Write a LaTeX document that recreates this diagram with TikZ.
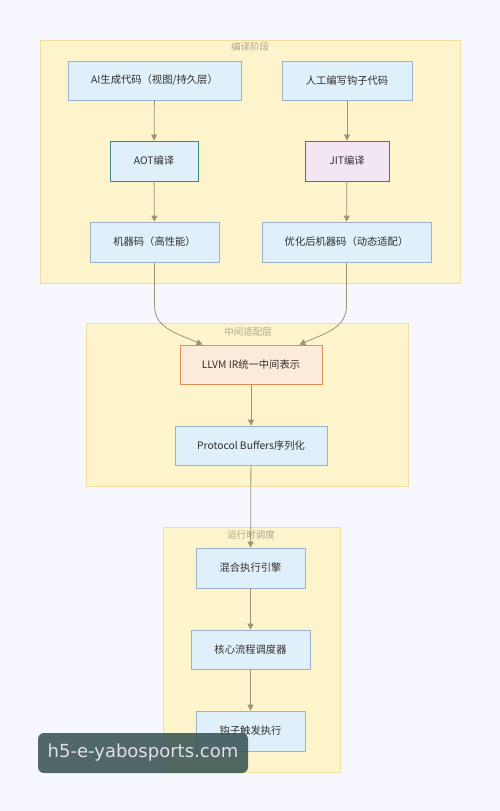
\documentclass[tikz,border=0pt]{standalone}
\usepackage{fontspec}
\setmainfont{Noto Sans CJK SC}
\usetikzlibrary{arrows.meta,positioning}
\definecolor{grpfill}{HTML}{FDF4CC}
\definecolor{grpdraw}{HTML}{EEDF9E}
\definecolor{grptext}{HTML}{B0A68A}
\definecolor{nfill}{HTML}{E0F0FA}
\definecolor{ndraw}{HTML}{9AB2CA}
\definecolor{aotdraw}{HTML}{3F8585}
\definecolor{jitfill}{HTML}{F3E6F4}
\definecolor{jitdraw}{HTML}{7E5A7E}
\definecolor{llfill}{HTML}{FCEBDA}
\definecolor{lldraw}{HTML}{DE8E56}
\definecolor{edgec}{HTML}{9C9474}
\definecolor{txt}{HTML}{2E2E2E}
\definecolor{wmfill}{HTML}{34504F}
\definecolor{wmtext}{HTML}{E4DDF0}
\tikzset{
  x=1pt,y=-1pt,
  grp/.style={fill=grpfill,draw=grpdraw,line width=0.8pt},
  grptitle/.style={text=grptext,font=\fontsize{9.5}{10}\selectfont,inner sep=0pt},
  box/.style={fill=nfill,draw=ndraw,line width=0.7pt,text=txt,font=\fontsize{10.3}{12}\selectfont,inner sep=0pt,anchor=center},
  edge/.style={draw=edgec,line width=0.8pt,-{Triangle[length=6pt,width=6pt]}},
}
\begin{document}
\begin{tikzpicture}
\fill[white!97!blue] (0,0) rectangle (500,811);
\useasboundingbox (0,0) rectangle (500,811);
% groups
\draw[grp] (40,40) rectangle (460,283);
\node[grptitle] (t1) at (250,47) {编译阶段};
\draw[grp] (86,323) rectangle (408,486);
\node[grptitle] (t2) at (248,332) {中间适配层};
\draw[grp] (163,527) rectangle (340,772);
\node[grptitle] (t3) at (251,535) {运行时调度};
% nodes
\node[box,minimum width=173pt,minimum height=39pt] (ai) at (154.5,80.5) {AI生成代码（视图/持久层）};
\node[box,minimum width=130pt,minimum height=39pt] (hand) at (347,80.5) {人工编写钩子代码};
\node[box,draw=aotdraw,line width=0.9pt,minimum width=88pt,minimum height=40pt] (aot) at (154,161) {AOT编译};
\node[box,fill=jitfill,draw=jitdraw,line width=0.9pt,minimum width=84pt,minimum height=40pt] (jit) at (347,161) {JIT编译};
\node[box,minimum width=129pt,minimum height=40pt] (m1) at (154.5,242) {机器码（高性能）};
\node[box,minimum width=169pt,minimum height=40pt] (m2) at (346.5,242) {优化后机器码（动态适配）};
\node[box,fill=llfill,draw=lldraw,line width=0.9pt,minimum width=142pt,minimum height=39pt] (ll) at (251,364.5) {LLVM IR统一中间表示};
\node[box,minimum width=152pt,minimum height=39pt] (pb) at (251,445.5) {Protocol Buffers序列化};
\node[box,minimum width=109pt,minimum height=40pt] (mix) at (250.5,568) {混合执行引擎};
\node[box,minimum width=119pt,minimum height=39pt] (core) at (250.5,649.5) {核心流程调度器};
\node[box,minimum width=109pt,minimum height=40pt] (hook) at (250.5,731) {钩子触发执行};
% edges
\draw[edge] (ai) -- (aot);
\draw[edge] (aot) -- (m1);
\draw[edge] (hand) -- (jit);
\draw[edge] (jit) -- (m2);
\draw[edge] (m1.south) -- ++(0,43) .. controls +(0,22) and +(-28,-12) .. ([xshift=23pt]ll.north west);
\draw[edge] (m2.south) -- ++(0,43) .. controls +(0,22) and +(28,-12) .. ([xshift=-23pt]ll.north east);
\draw[edge] (ll) -- (pb);
\draw[edge] (pb) -- (mix);
\draw[edge] (mix) -- (core);
\draw[edge] (core) -- (hook);
% watermark
\node[fill=wmfill,fill opacity=0.85,text opacity=1,rounded corners=6pt,minimum width=210pt,minimum height=40pt,text=wmtext,font=\fontsize{18}{20}\selectfont\fontspec{DejaVu Sans},inner sep=0pt] (wm) at (143,753) {h5-e-yabosports.com};
\end{tikzpicture}
\end{document}
